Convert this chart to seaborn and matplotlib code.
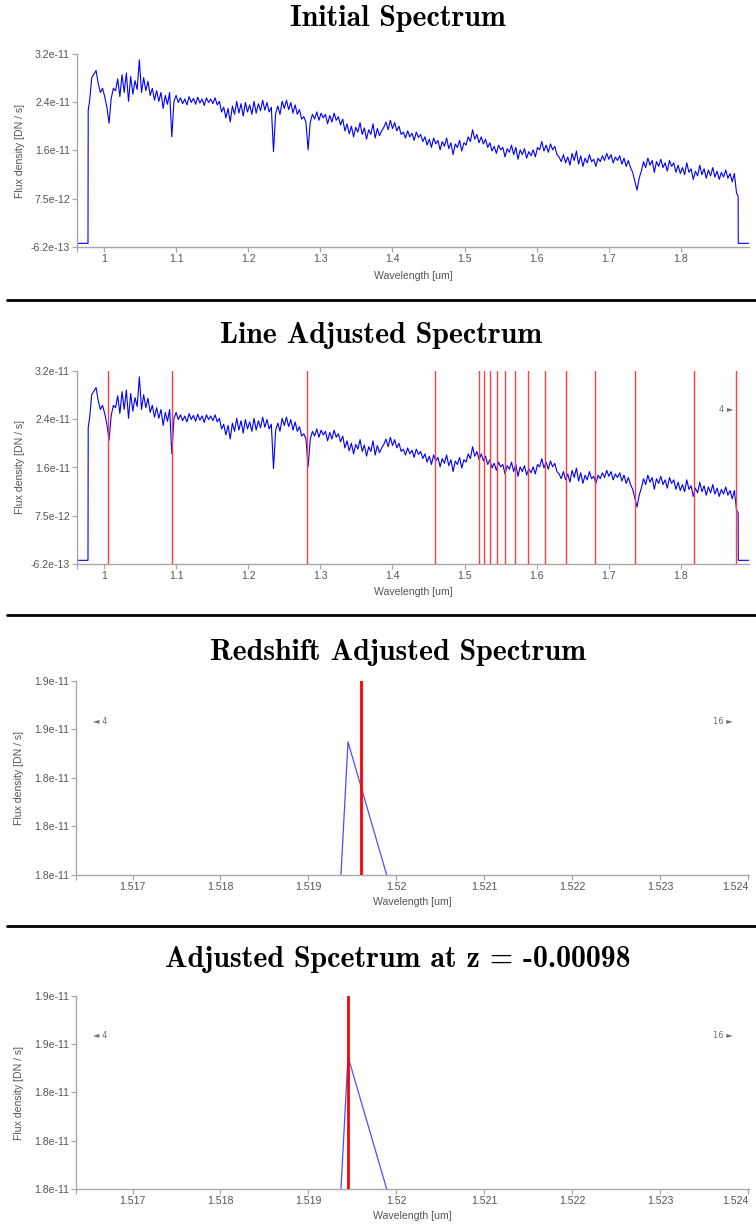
import numpy as np
import pandas as pd
import matplotlib
matplotlib.use("Agg")
import matplotlib.pyplot as plt
from matplotlib.lines import Line2D
import seaborn as sns

# ---------------- data ----------------
TITLES = ["Initial Spectrum", "Line Adjusted Spectrum",
          "Redshift Adjusted Spectrum", "Adjusted Spcetrum at z = -0.00098"]
X_LABEL = "Wavelength [um]"
Y_LABEL = "Flux density [DN / s]"

# full spectrum: regular sampling grid, flux in units of 1e-11 DN/s
SPEC_START = 0.980
SPEC_STEP = 0.003
FLUX_E11 = [
    2.40, 2.80, 2.86, 2.92, 2.70, 2.55, 2.62, 2.48, 2.30, 2.03,
    2.45, 2.62, 2.58, 2.78, 2.48, 2.85, 2.55, 2.88, 2.40, 2.82,
    2.52, 2.75, 2.60, 3.10, 2.55, 2.80, 2.58, 2.74, 2.50, 2.62,
    2.42, 2.58, 2.40, 2.55, 2.28, 2.50, 2.35, 2.55, 1.80, 2.40,
    2.50, 2.38, 2.46, 2.36, 2.44, 2.34, 2.48, 2.38, 2.45, 2.35,
    2.47, 2.37, 2.44, 2.33, 2.46, 2.38, 2.44, 2.36, 2.46, 2.34,
    2.40, 2.22, 2.30, 2.12, 2.28, 2.05, 2.32, 2.18, 2.40, 2.20,
    2.36, 2.15, 2.38, 2.22, 2.34, 2.18, 2.40, 2.20, 2.36, 2.24,
    2.42, 2.25, 2.38, 2.22, 2.30, 1.55, 2.20, 2.32, 2.18, 2.40,
    2.28, 2.42, 2.26, 2.38, 2.20, 2.34, 2.18, 2.26, 2.10, 2.14,
    2.05, 1.58, 2.05, 2.18, 2.10, 2.22, 2.08, 2.20, 2.12, 2.18,
    2.02, 2.16, 2.05, 2.20, 2.08, 2.14, 2.00, 2.10, 1.90, 2.02,
    1.85, 1.98, 1.80, 1.96, 1.88, 2.04, 1.84, 1.95, 1.76, 1.92,
    1.84, 2.02, 1.78, 1.94, 1.82, 1.90, 1.96, 2.05, 1.92, 2.08,
    1.94, 2.04, 1.90, 1.98, 1.84, 1.88, 1.78, 1.90, 1.80, 1.86,
    1.74, 1.88, 1.79, 1.84, 1.72, 1.80, 1.66, 1.76, 1.62, 1.78,
    1.68, 1.74, 1.58, 1.72, 1.64, 1.78, 1.60, 1.70, 1.50, 1.68,
    1.62, 1.74, 1.56, 1.70, 1.66, 1.80, 1.72, 1.92, 1.76, 1.84,
    1.70, 1.80, 1.68, 1.76, 1.62, 1.70, 1.56, 1.64, 1.52, 1.66,
    1.58, 1.62, 1.46, 1.60, 1.54, 1.66, 1.50, 1.62, 1.42, 1.58,
    1.50, 1.60, 1.44, 1.55, 1.48, 1.58, 1.46, 1.62, 1.58, 1.72,
    1.56, 1.66, 1.54, 1.68, 1.58, 1.64, 1.50, 1.46, 1.38, 1.50,
    1.36, 1.46, 1.32, 1.52, 1.40, 1.56, 1.34, 1.48, 1.30, 1.44,
    1.36, 1.50, 1.38, 1.42, 1.30, 1.44, 1.38, 1.48, 1.40, 1.52,
    1.42, 1.50, 1.36, 1.46, 1.40, 1.48, 1.34, 1.44, 1.30, 1.40,
    1.28, 1.20, 1.05, 0.90, 1.10, 1.22, 1.38, 1.28, 1.44, 1.32,
    1.40, 1.20, 1.38, 1.30, 1.42, 1.28, 1.36, 1.22, 1.40, 1.30,
    1.36, 1.20, 1.32, 1.18, 1.28, 1.16, 1.36, 1.20, 1.26, 1.08,
    1.22, 1.14, 1.32, 1.16, 1.26, 1.10, 1.24, 1.14, 1.28, 1.12,
    1.22, 1.08, 1.20, 1.12, 1.24, 1.10, 1.18, 1.04, 1.18, 0.85,
]
LEAD_WAVE = [0.9626, 0.9778, 0.9781]
LEAD_FLUX = [0.0, 0.0, 2.25]
TAIL_WAVE = [1.8792, 1.8794, 1.8942]
TAIL_FLUX = [0.80, 0.0, 0.0]

# identified lines (um) in the line-adjusted panel
LINE_WAVES = [1.0049, 1.0938, 1.2818, 1.4584, 1.5196, 1.5265, 1.5346, 1.5443,
              1.5561, 1.5705, 1.5885, 1.6114, 1.6412, 1.6811, 1.7367, 1.8179, 1.8756]

# zoomed panels
ZOOM_WAVE = [1.51937, 1.51945, 1.51989]
ZOOM_FLUX = [1.795e-11, 1.8636e-11, 1.795e-11]
ZOOM_LINE_REDSHIFT = 1.51960
ZOOM_LINE_ADJUSTED = 1.51945

FULL_XLIM = (0.96257, 1.89428)
FULL_YLIM = (-6.2e-13, 3.2e-11)
FULL_XTICKS = [1.0, 1.1, 1.2, 1.3, 1.4, 1.5, 1.6, 1.7, 1.8]
FULL_XTICKLABELS = ["1", "1.1", "1.2", "1.3", "1.4", "1.5", "1.6", "1.7", "1.8"]
FULL_YTICKLABELS = ["-6.2e-13", "7.5e-12", "1.6e-11", "2.4e-11", "3.2e-11"]

ZOOM_XLIM = (1.516357, 1.52401)
ZOOM_YLIM = (1.795e-11, 1.895e-11)
ZOOM_XTICKS = [1.517, 1.518, 1.519, 1.520, 1.521, 1.522, 1.523, 1.524]
ZOOM_XTICKLABELS = ["1.517", "1.518", "1.519", "1.52", "1.521", "1.522", "1.523", "1.524"]
ZOOM_YTICKLABELS = ["1.8e-11", "1.8e-11", "1.8e-11", "1.9e-11", "1.9e-11"]

# ---------------- style ----------------
sns.set_theme(style="white")
plt.rcParams["font.family"] = ["Liberation Sans", "DejaVu Sans"]

W, H = 756, 1226
fig = plt.figure(figsize=(W / 100, H / 100), dpi=100)
fig.patch.set_facecolor("white")


def rect(l, t, r, b):
    return [l / W, 1 - b / H, (r - l) / W, (b - t) / H]


GRAY = "#a8a8a8"
TXT = "#555555"


def style(ax, xlim, ylim, xticks, xticklabels, yticklabels, px_w, px_h, xlabel_off):
    ax.set_xlim(*xlim)
    ax.set_ylim(*ylim)
    ax.set_xticks([xlim[0]] + list(xticks), [""] + list(xticklabels))
    ax.set_yticks(np.linspace(ylim[0], ylim[1], len(yticklabels)), yticklabels)
    for s in ["top", "right"]:
        ax.spines[s].set_visible(False)
    for s in ["left", "bottom"]:
        ax.spines[s].set_color(GRAY)
        ax.spines[s].set_linewidth(1.0)
    ax.tick_params(axis="both", direction="out", length=3.5, width=0.9, color=GRAY,
                   labelcolor=TXT, labelsize=7.6, pad=1.5)
    ax.tick_params(left=True, bottom=True)
    ax.set_xlabel(X_LABEL, fontsize=7.6, color=TXT)
    ax.set_ylabel(Y_LABEL, fontsize=7.6, color=TXT)
    ax.xaxis.set_label_coords(0.5, -(xlabel_off - 5) / px_h)
    ax.yaxis.set_label_coords(-(57 - 5) / px_w, 0.5)
    ax.grid(False)
    ax.set_facecolor("white")


wave = np.concatenate([LEAD_WAVE, SPEC_START + SPEC_STEP * np.arange(len(FLUX_E11)), TAIL_WAVE])
flux = np.concatenate([LEAD_FLUX, FLUX_E11, TAIL_FLUX]) * 1e-11
spec = pd.DataFrame({"wave": wave, "flux": flux})
zoom = pd.DataFrame({"wave": ZOOM_WAVE, "flux": ZOOM_FLUX})

# panel 1
ax1 = fig.add_axes(rect(77, 54, 749, 247))
sns.lineplot(data=spec, x="wave", y="flux", ax=ax1, color="#0000ff", lw=0.8,
             estimator=None, sort=False)
style(ax1, FULL_XLIM, FULL_YLIM, FULL_XTICKS, FULL_XTICKLABELS, FULL_YTICKLABELS, 672, 193, 29)

# panel 2
ax2 = fig.add_axes(rect(77, 371, 749, 564))
sns.lineplot(data=spec, x="wave", y="flux", ax=ax2, color="#0000ff", lw=0.8,
             estimator=None, sort=False)
for lw_ in LINE_WAVES:
    ax2.axvline(lw_, color="#ff4040", lw=1.0, zorder=3)
style(ax2, FULL_XLIM, FULL_YLIM, FULL_XTICKS, FULL_XTICKLABELS, FULL_YTICKLABELS, 672, 193, 28)

# panel 3
ax3 = fig.add_axes(rect(76, 681, 749, 875))
sns.lineplot(data=zoom, x="wave", y="flux", ax=ax3, color="#4d4dff", lw=0.9,
             estimator=None, sort=False)
ax3.axvline(ZOOM_LINE_REDSHIFT, color="#ff0000", lw=2.0, zorder=3)
style(ax3, ZOOM_XLIM, ZOOM_YLIM, ZOOM_XTICKS, ZOOM_XTICKLABELS, ZOOM_YTICKLABELS, 673, 194, 27)

# panel 4
ax4 = fig.add_axes(rect(76, 996, 749, 1189))
sns.lineplot(data=zoom, x="wave", y="flux", ax=ax4, color="#4d4dff", lw=0.9,
             estimator=None, sort=False)
ax4.axvline(ZOOM_LINE_ADJUSTED, color="#ff0000", lw=2.0, zorder=3)
style(ax4, ZOOM_XLIM, ZOOM_YLIM, ZOOM_XTICKS, ZOOM_XTICKLABELS, ZOOM_YTICKLABELS, 673, 193, 27)

# keep the last zoom tick label inside the figure edge
for ax in (ax3, ax4):
    ax.get_xticklabels()[-1].set_horizontalalignment("right")
    ax.get_xticklabels()[-1].set_x(ZOOM_XLIM[1] + 0.00009)

# titles
title_pos = [(398, 26.5), (381, 343), (398, 660), (398, 967)]
for t, (cx, by) in zip(TITLES, title_pos):
    fig.text(cx / W, 1 - by / H, t, fontfamily=["cmb10", "DejaVu Serif"], fontsize=21.5,
             ha="center", va="baseline", color="black")

# separators
for y in [300, 614.5, 926]:
    fig.add_artist(Line2D([7 / W, 1.0], [1 - y / H, 1 - y / H], color="black", lw=2.0,
                          transform=fig.transFigure))

# navigation markers
NAV = dict(fontsize=6, color="#707070", family=["DejaVu Sans"], ha="center", va="center")
fig.text(726 / W, 1 - 410 / H, "4 \u25ba", **NAV)
for y in [721, 1035]:
    fig.text(100 / W, 1 - y / H, "\u25c4 4", **NAV)
    fig.text(723 / W, 1 - y / H, "16 \u25ba", **NAV)

fig.savefig("out.png", dpi=100, facecolor="white")
